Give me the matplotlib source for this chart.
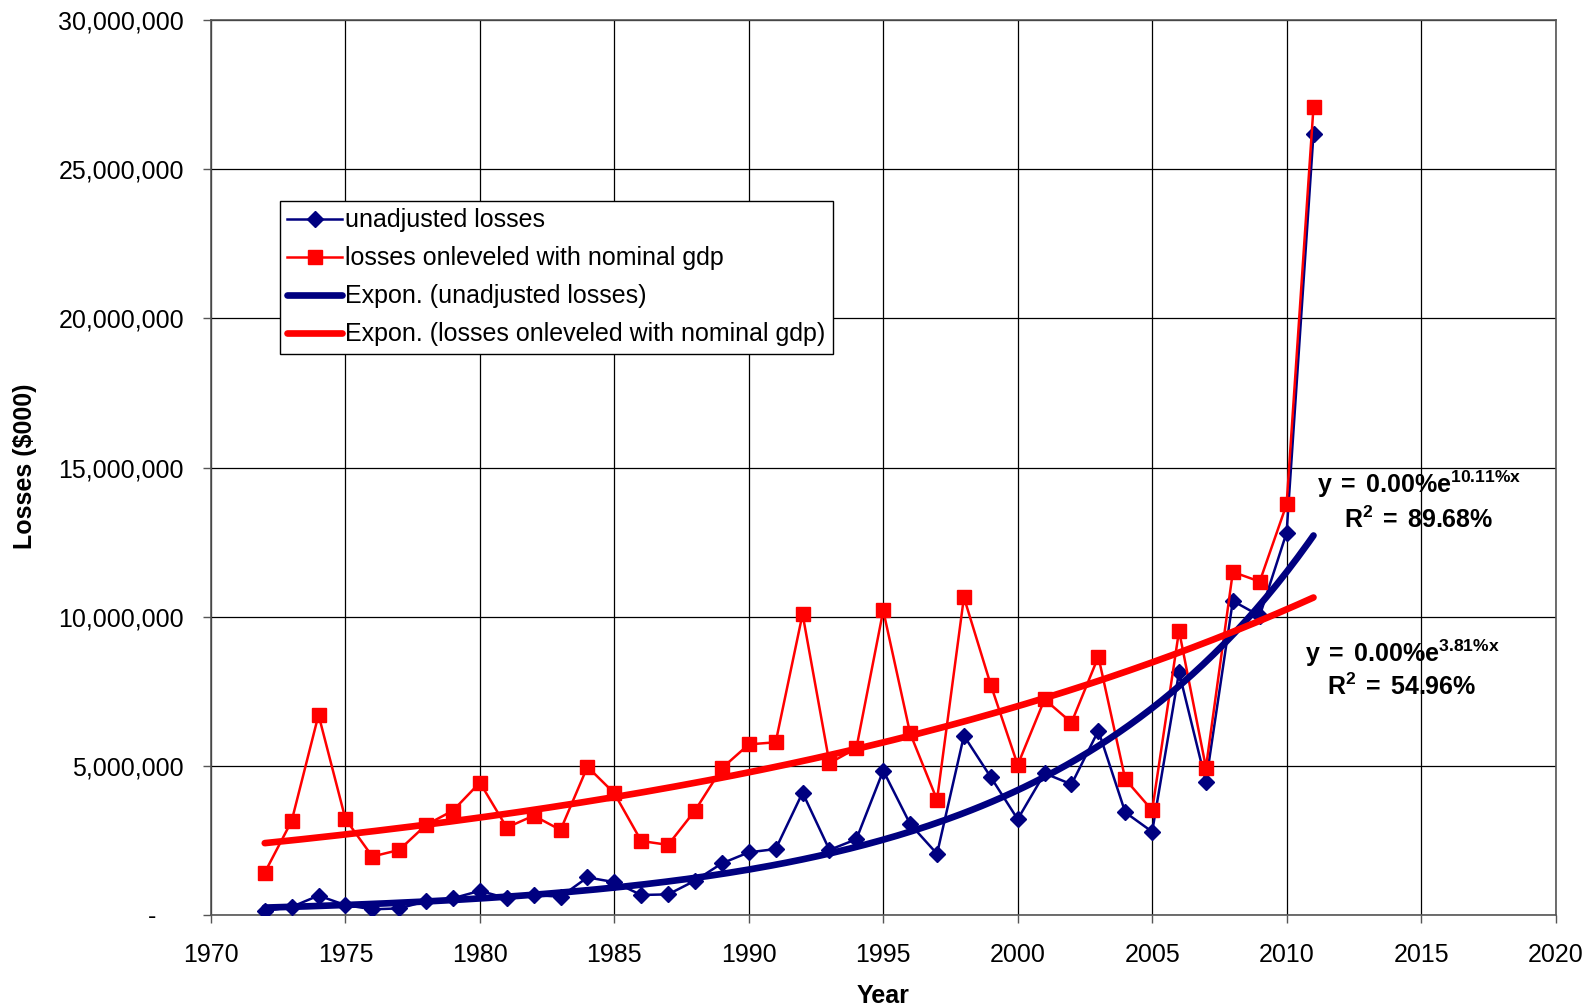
import numpy as np
import matplotlib
matplotlib.use("Agg")
import matplotlib.pyplot as plt
from matplotlib.ticker import FuncFormatter
from matplotlib.transforms import ScaledTranslation

plt.rcParams['font.family'] = ['Liberation Sans', 'DejaVu Sans']
plt.rcParams['mathtext.fontset'] = 'custom'
plt.rcParams['mathtext.rm'] = 'Liberation Sans'
plt.rcParams['mathtext.bf'] = 'Liberation Sans:bold'
plt.rcParams['mathtext.it'] = 'Liberation Sans:italic'

# Annual losses ($000)
years = np.arange(1972, 2012)
unadjusted = [
    0.13e6, 0.27e6, 0.65e6, 0.33e6, 0.19e6, 0.22e6, 0.46e6, 0.56e6, 0.81e6, 0.56e6,
    0.67e6, 0.61e6, 1.26e6, 1.10e6, 0.67e6, 0.69e6, 1.15e6, 1.73e6, 2.10e6, 2.21e6,
    4.10e6, 2.18e6, 2.54e6, 4.84e6, 3.05e6, 2.05e6, 6.01e6, 4.62e6, 3.21e6, 4.75e6,
    4.38e6, 6.18e6, 3.44e6, 2.79e6, 8.14e6, 4.46e6, 10.53e6, 10.03e6, 12.82e6, 26.20e6,
]
onleveled = [
    1.42e6, 3.15e6, 6.71e6, 3.22e6, 1.96e6, 2.18e6, 3.02e6, 3.50e6, 4.44e6, 2.93e6,
    3.33e6, 2.85e6, 4.97e6, 4.08e6, 2.48e6, 2.35e6, 3.50e6, 4.92e6, 5.72e6, 5.79e6,
    10.09e6, 5.09e6, 5.59e6, 10.21e6, 6.09e6, 3.86e6, 10.65e6, 7.71e6, 5.03e6, 7.23e6,
    6.45e6, 8.66e6, 4.55e6, 3.51e6, 9.53e6, 4.94e6, 11.50e6, 11.18e6, 13.77e6, 27.10e6,
]
# Growth rates and fit quality of the exponential trendlines
rate_unadjusted = 0.1011
rate_onleveled = 0.0381
r2_unadjusted = 0.8968
r2_onleveled = 0.5496

x_ticks = np.arange(1970, 2021, 5)
y_ticks = np.arange(0, 30_000_001, 5_000_000)

NAVY = '#000080'
RED = '#FF0000'
FS = 18

fig = plt.figure(figsize=(15.91, 10.08), dpi=100)
ax = fig.add_axes([0.1326, 0.0923, 0.8451, 0.8876])


def exp_trend(x, y, rate, xs):
    """Exponential trend with a given growth rate; level from log-mean of the data."""
    ln_a = np.mean(np.log(y)) - rate * np.mean(x)
    return np.exp(ln_a + rate * xs)


def equation(rate):
    return r'$\mathbf{y\;=\;0.00\%e^{' + f'{rate * 100:.2f}' + r'\%x}}$'


def r_squared(r2):
    return r'$\mathbf{R^2\;=\;' + f'{r2 * 100:.2f}' + r'\%}$'


xs = np.linspace(years[0], years[-1], 200)

ax.plot(years, unadjusted, color=NAVY, lw=1.8, marker='D', ms=8,
        label='unadjusted losses', zorder=3)
ax.plot(years, onleveled, color=RED, lw=1.8, marker='s', ms=9.5,
        label='losses onleveled with nominal gdp', zorder=3)
ax.plot(xs, exp_trend(years, np.array(unadjusted), rate_unadjusted, xs),
        color=NAVY, lw=4.8, solid_capstyle='round',
        label='Expon. (unadjusted losses)', zorder=4)
ax.plot(xs, exp_trend(years, np.array(onleveled), rate_onleveled, xs),
        color=RED, lw=4.8, solid_capstyle='round',
        label='Expon. (losses onleveled with nominal gdp)', zorder=4)

ax.set_xlim(1970, 2020)
ax.set_ylim(0, 30_000_000)
ax.set_xticks(x_ticks)
ax.set_yticks(y_ticks)
ax.yaxis.set_major_formatter(FuncFormatter(lambda v, p: '-' if v == 0 else f'{v:,.0f}'))
ax.tick_params(axis='both', direction='out', length=6, width=1, color='#555555',
               labelsize=FS)
ax.tick_params(axis='y', pad=13.5)
ax.tick_params(axis='x', pad=14)
ax.grid(True, color='black', lw=0.9)
ax.set_axisbelow(True)
for s in ax.spines.values():
    s.set_color('#555555')
    s.set_linewidth(1.2)

fig.canvas.draw()
zero_label = ax.yaxis.get_major_ticks()[0].label1
zero_label.set_transform(zero_label.get_transform() +
                         ScaledTranslation(-0.28, 0, fig.dpi_scale_trans))

fig.text(0.0155, 0.537, 'Losses ($000)', rotation=90, ha='center', va='center',
         fontsize=FS, fontweight='bold')
fig.text(0.555, 0.012, 'Year', ha='center', va='center',
         fontsize=FS, fontweight='bold')

leg = ax.legend(loc='upper left', bbox_to_anchor=(0.0513, 0.798), fontsize=FS,
                frameon=True, fancybox=False, edgecolor='black', framealpha=1,
                borderpad=0.3, labelspacing=0.56, handlelength=2.2,
                handletextpad=0.12, borderaxespad=0)
leg.get_frame().set_linewidth(1.0)

ax.text(2014.92, 14.15e6, equation(rate_unadjusted),
        ha='center', va='baseline', fontsize=FS)
ax.text(2014.92, 12.99e6, r_squared(r2_unadjusted),
        ha='center', va='baseline', fontsize=FS)
ax.text(2014.29, 8.47e6, equation(rate_onleveled),
        ha='center', va='baseline', fontsize=FS)
ax.text(2014.29, 7.38e6, r_squared(r2_onleveled),
        ha='center', va='baseline', fontsize=FS)

fig.savefig('out.png', dpi=100)
